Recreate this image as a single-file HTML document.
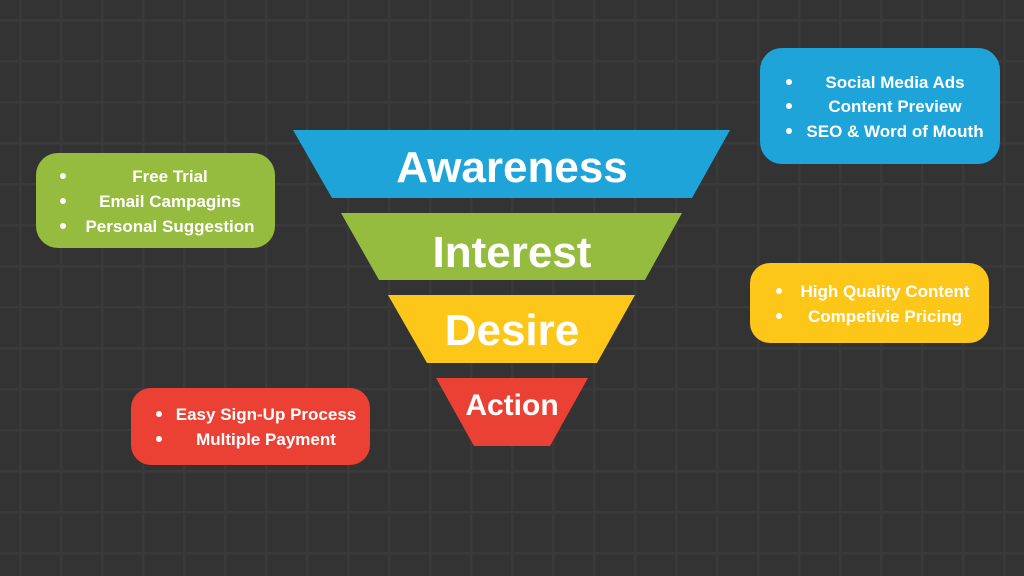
<!DOCTYPE html>
<html><head><meta charset="utf-8"><style>
html,body{margin:0;padding:0;background:#333333;}
svg{display:block}
text{font-family:"Liberation Sans",sans-serif;font-weight:bold;fill:#fff}
</style></head><body>
<svg width="1024" height="576" viewBox="0 0 1024 576" xmlns="http://www.w3.org/2000/svg">
<defs>
<pattern id="g" x="19" y="19" width="41" height="41" patternUnits="userSpaceOnUse">
<rect x="0" y="0" width="41" height="2.5" fill="#3a3a3a"/>
<rect x="0" y="0" width="2.5" height="41" fill="#3a3a3a"/>
</pattern>
</defs>
<rect width="1024" height="576" fill="#333333"/>
<rect width="1024" height="576" fill="url(#g)"/>

<polygon points="293,130 730,130 692,198 332,198" fill="#1ea4d9"/>
<polygon points="341,213 682,213 645,280 379,280" fill="#95bb3f"/>
<polygon points="388,295 635,295 597,363 427,363" fill="#fcc719"/>
<polygon points="436,378 588,378 550,446 474,446" fill="#eb4034"/>
<text x="512" y="182" font-size="44" text-anchor="middle">Awareness</text>
<text x="512" y="267" font-size="44" text-anchor="middle">Interest</text>
<text x="512" y="345" font-size="44" text-anchor="middle">Desire</text>
<text x="512" y="415" font-size="30" text-anchor="middle">Action</text>

<rect x="760" y="48" width="240" height="116" rx="22" fill="#1ea4d9"/>
<rect x="36" y="153" width="239" height="95" rx="22" fill="#95bb3f"/>
<rect x="750" y="263" width="239" height="80" rx="20" fill="#fcc719"/>
<rect x="131" y="388" width="239" height="77" rx="20" fill="#eb4034"/>

<g fill="#fff">
<circle cx="789" cy="82" r="3"/><circle cx="789" cy="106" r="3"/><circle cx="789" cy="131" r="3"/>
<circle cx="63" cy="176" r="3"/><circle cx="63" cy="201" r="3"/><circle cx="63" cy="226" r="3"/>
<circle cx="779" cy="291" r="3"/><circle cx="779" cy="316" r="3"/>
<circle cx="159" cy="414" r="3"/><circle cx="159" cy="439" r="3"/>
</g>
<g font-size="17">
<text x="895" y="88" text-anchor="middle">Social Media Ads</text>
<text x="895" y="112" text-anchor="middle">Content Preview</text>
<text x="895" y="137" text-anchor="middle">SEO &amp; Word of Mouth</text>
<text x="170" y="182" text-anchor="middle">Free Trial</text>
<text x="170" y="207" text-anchor="middle">Email Campagins</text>
<text x="170" y="232" text-anchor="middle">Personal Suggestion</text>
<text x="885" y="297" text-anchor="middle">High Quality Content</text>
<text x="885" y="322" text-anchor="middle">Competivie Pricing</text>
<text x="266" y="420" text-anchor="middle">Easy Sign-Up Process</text>
<text x="266" y="445" text-anchor="middle">Multiple Payment</text>
</g>
</svg>
</body></html>
